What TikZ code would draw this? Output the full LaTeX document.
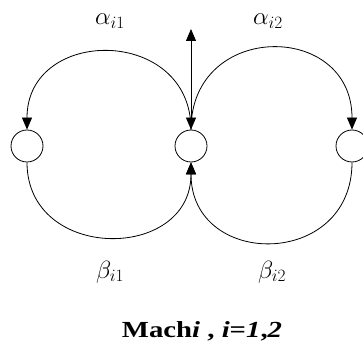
\documentclass[tikz,border=0pt]{standalone}
\usepackage{fontspec}
\setmainfont{Liberation Serif}
\newfontfamily\capfont[FakeStretch=1.25]{Liberation Serif}
\usetikzlibrary{arrows.meta,positioning}
\tikzset{
  buffer/.style={
    circle,
    draw=black,
    line width=0.8pt,
    minimum size=32pt,
    inner sep=0pt
  },
  flow/.style={-{Triangle[length=12pt,width=10pt]}, line width=0.8pt, draw=black},
  rate/.style={font=\fontsize{25}{30}\selectfont}
}
\begin{document}
\begin{tikzpicture}[x=1pt,y=-1pt]
  \useasboundingbox (0,0) rectangle (363,352);
  \node[buffer] (left) at (27,146) {};
  \node[buffer] (mid) at (191,146) {};
  \node[buffer] (right) at (352,146) {};
  \coordinate (out) at (191,29);

  % failure / repair flows
  \draw[flow] (mid.north) .. controls (191,26) and (27,26) .. (left.north);
  \draw[flow] (mid.north) .. controls (191,21) and (352,21) .. (right.north);
  \draw[flow] (left.south) .. controls (27,262) and (191,262) .. (mid.south);
  \draw[flow] (right.south) .. controls (352,269) and (191,269) .. (mid.south);
  \draw[flow, {Triangle[length=12pt,width=10pt]}-{Triangle[length=12pt,width=10pt]}] (out) -- (mid.north);

  \node[rate] (a1) at (110,21) {$\alpha_{i1}$};
  \node[rate] (a2) at (268,21) {$\alpha_{i2}$};
  \node[rate] (b1) at (110,272) {$\beta_{i1}$};
  \node[rate] (b2) at (272,272) {$\beta_{i2}$};
  \node[font=\capfont\fontsize{23}{28}\selectfont\bfseries] (cap) at (202,331)
    {Mach\textit{i} , \textit{i}=\textit{1},\textit{2}};
\end{tikzpicture}
\end{document}
